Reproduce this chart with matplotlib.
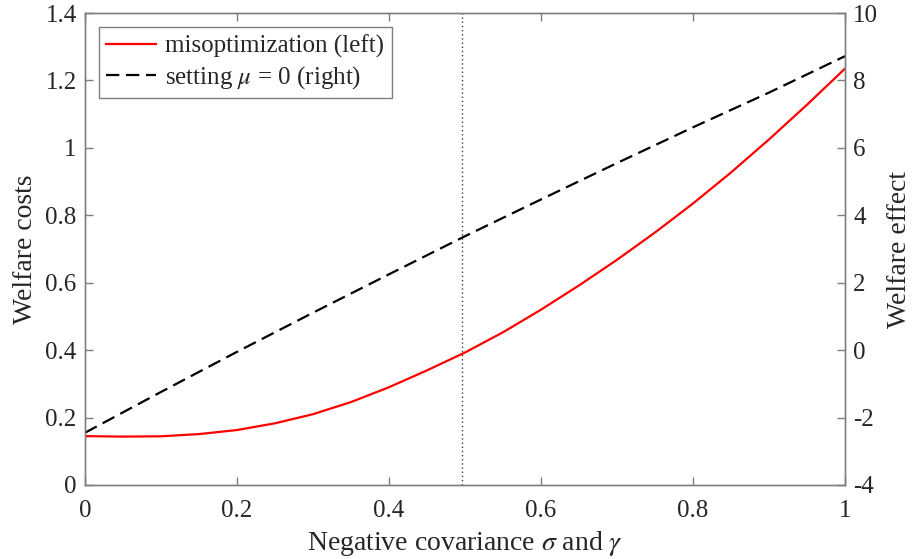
import numpy as np
import matplotlib
matplotlib.use('Agg')
import matplotlib.pyplot as plt

plt.rcParams['font.family'] = ['Liberation Serif', 'DejaVu Serif']
plt.rcParams['mathtext.fontset'] = 'stix'

# data
x_red = [0, 0.05, 0.1, 0.15, 0.2, 0.25, 0.3, 0.35, 0.4, 0.45, 0.5,
         0.55, 0.6, 0.65, 0.7, 0.75, 0.8, 0.85, 0.9, 0.95, 1.0]
misopt = [0.145, 0.1435, 0.1445, 0.151, 0.163, 0.183, 0.21, 0.246, 0.29, 0.34, 0.393,
          0.453, 0.52, 0.592, 0.668, 0.749, 0.835, 0.927, 1.025, 1.128, 1.235]
x_black = [0, 0.1, 0.2, 0.3, 0.4, 0.5, 0.6, 0.7, 0.8, 0.9, 1.0]
mu_zero = [-2.45, -1.24, -0.05, 1.11, 2.25, 3.38, 4.47, 5.55, 6.61, 7.64, 8.72]
x_marker = 0.496

left_ticks = [0, 0.2, 0.4, 0.6, 0.8, 1, 1.2, 1.4]
left_labels = ['0', '0.2', '0.4', '0.6', '0.8', '1', '1.2', '1.4']
right_ticks = [-4, -2, 0, 2, 4, 6, 8, 10]
right_labels = ['-4', '-2', '0', '2', '4', '6', '8', '10']
x_ticks = [0, 0.2, 0.4, 0.6, 0.8, 1]
x_labels = ['0', '0.2', '0.4', '0.6', '0.8', '1']

spine_col = '#7f7f7f'
text_col = '#262626'
fs = 18
lfs = 20

fig = plt.figure(figsize=(9.15, 5.59), dpi=100)
ax = fig.add_axes([0.0929, 0.1324, 0.8306, 0.8443])
ax2 = ax.twinx()

l1, = ax.plot(x_red, misopt, color='red', lw=1.6, label='misoptimization (left)')
ax.axvline(x_marker, color='#404040', lw=1, ls=(0, (1, 2)))
l2, = ax2.plot(x_black, mu_zero, color='black', lw=1.6, dashes=(6, 3),
               label=r'setting $\mu$ = 0 (right)')

ax.set_xlim(0, 1)
ax.set_ylim(0, 1.4)
ax2.set_ylim(-4, 10)
ax.set_xticks(x_ticks)
ax.set_xticklabels(x_labels)
ax.set_yticks(left_ticks)
ax.set_yticklabels(left_labels)
ax2.set_yticks(right_ticks)
ax2.set_yticklabels(right_labels)

for a in (ax, ax2):
    for s in a.spines.values():
        s.set_color(spine_col)
        s.set_linewidth(1)
    a.tick_params(direction='in', length=6, width=1, color=spine_col,
                  labelsize=fs, labelcolor=text_col)
ax.tick_params(axis='x', top=True, pad=11)
ax.tick_params(axis='y', pad=6)
ax2.tick_params(axis='y', pad=6)

ax.set_xlabel(r'Negative covariance $\sigma$ and $\gamma$', fontsize=lfs, color=text_col, labelpad=5)
ax.set_ylabel('Welfare costs', fontsize=lfs, color=text_col, labelpad=5)
ax2.set_ylabel('Welfare effect', fontsize=lfs, color=text_col, labelpad=6)

leg = ax.legend([l1, l2], [l1.get_label(), l2.get_label()], loc='upper left',
                fontsize=fs, fancybox=False, framealpha=1, edgecolor=spine_col,
                handlelength=2.0, handletextpad=0.35, borderaxespad=0.55,
                borderpad=0.3, labelspacing=0.25)
leg.get_frame().set_linewidth(1)
for t in leg.get_texts():
    t.set_color(text_col)

fig.savefig('out.png', dpi=100)
